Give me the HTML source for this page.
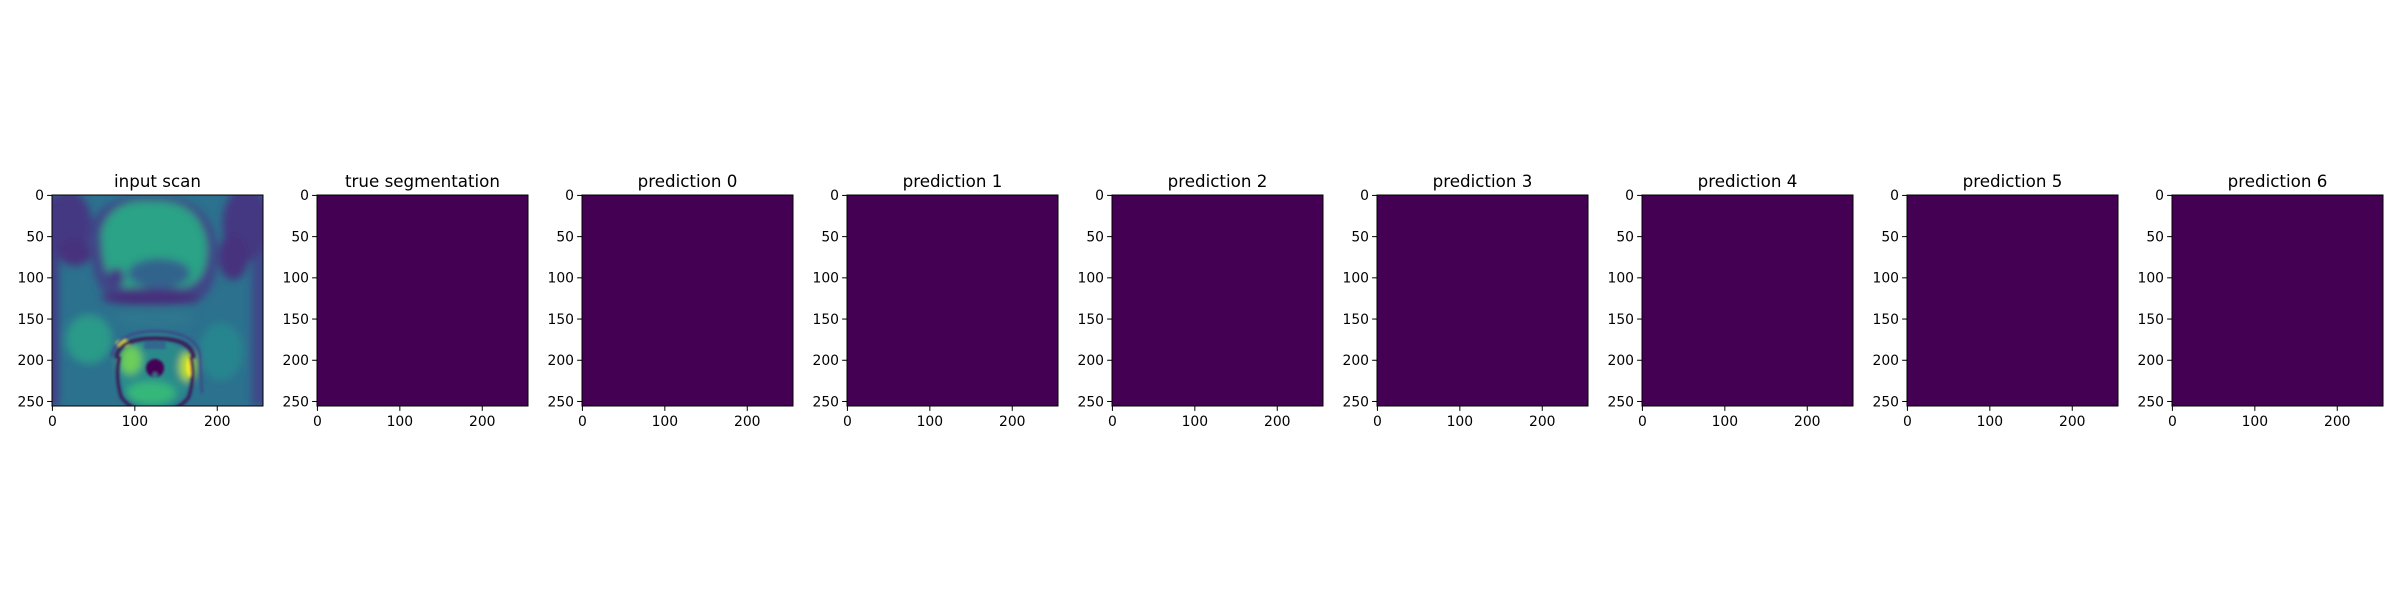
<!DOCTYPE html>
<html><head><meta charset="utf-8"><style>
html,body{margin:0;padding:0;background:#fff;}
svg{display:block;font-family:"DejaVu Sans","Liberation Sans",sans-serif;}
</style></head><body>
<svg id="fig" width="2400" height="600" viewBox="0 0 2400 600" xmlns="http://www.w3.org/2000/svg">
<defs>
<filter id="blur" x="-20%" y="-20%" width="140%" height="140%"><feGaussianBlur stdDeviation="5"/></filter>
<filter id="blur2" x="-20%" y="-20%" width="140%" height="140%"><feGaussianBlur stdDeviation="1.5"/></filter>
<clipPath id="clipScan"><rect x="0" y="0" width="256" height="256"/></clipPath>
</defs>
</svg>
<script>
const titles = ["input scan","true segmentation","prediction 0","prediction 1","prediction 2","prediction 3","prediction 4","prediction 5","prediction 6"];
const yTicks = [0,50,100,150,200,250];
const xTicks = [0,100,200];
const maskValues = [0,0,0,0,0,0,0,0];
const extentMin = -0.5, extentMax = 255.5;

const NS = "http://www.w3.org/2000/svg";
const svg = document.getElementById("fig");
const left0 = 52, step = 265, size = 211, top0 = 195;
function mk(tag, attrs, parent){const e=document.createElementNS(NS,tag);for(const k in attrs)e.setAttribute(k,attrs[k]);(parent||svg).appendChild(e);return e;}
function viridis(v){return v<=0?"#440154":"#fde725";}

titles.forEach((t,i)=>{
  const x0 = left0 + i*step;
  const sx = v => x0 + (v-extentMin)/(extentMax-extentMin)*size;
  const sy = v => top0 + (v-extentMin)/(extentMax-extentMin)*size;
  const g = mk("g",{});
  
  
  if(i===0){
    const img = mk("g",{transform:`translate(${x0},${top0}) scale(${size/256})`,"clip-path":"url(#clipScan)"},g);
    
    
    img.innerHTML = `
    <rect x="0" y="0" width="256" height="256" fill="#2c718e"/>
    <g filter="url(#blur)">
      <rect x="-10" y="0" width="18" height="256" fill="#433e85"/>
      <rect x="242" y="0" width="30" height="256" fill="#3e4a89"/>
      <ellipse cx="20" cy="35" rx="28" ry="40" fill="#453882"/>
      <ellipse cx="235" cy="35" rx="28" ry="45" fill="#453882"/>
      <ellipse cx="28" cy="70" rx="20" ry="16" fill="#46307e"/>
      <ellipse cx="220" cy="75" rx="18" ry="28" fill="#46307e"/>
      <path d="M45,40 Q60,0 120,2 Q190,0 200,60 Q205,120 170,132 L80,132 Q45,120 45,40 Z" fill="#3f4788"/>
      <path d="M60,45 Q70,5 120,8 Q180,5 188,60 Q190,105 160,112 L85,112 Q60,105 60,45 Z" fill="#29a386"/>
      <ellipse cx="130" cy="95" rx="38" ry="18" fill="#33638d"/>
      <ellipse cx="78" cy="100" rx="10" ry="12" fill="#433e85"/>
      <ellipse cx="120" cy="125" rx="60" ry="9" fill="#472d7b"/>
      <ellipse cx="45" cy="175" rx="28" ry="30" fill="#2a9a89"/>
      <ellipse cx="205" cy="190" rx="26" ry="35" fill="#27858e"/>
      <ellipse cx="125" cy="150" rx="50" ry="12" fill="#2d768e"/>
      <circle cx="125" cy="215" r="46" fill="#2a8a8b"/>
      <ellipse cx="165" cy="208" rx="10" ry="18" fill="#b5de2b"/>
      <ellipse cx="95" cy="200" rx="14" ry="18" fill="#6ccd5a"/>
      <ellipse cx="120" cy="240" rx="30" ry="14" fill="#35b779"/>
    </g>
    <g filter="url(#blur2)">
      <ellipse cx="86" cy="180" rx="9" ry="5" fill="#e5e419"/>
      <ellipse cx="167" cy="208" rx="4" ry="12" fill="#fde725"/>
      <path d="M78,198 Q80,174 125,174 Q170,174 172,198" fill="none" stroke="#3b1c5a" stroke-width="5"/>
      <path d="M82,196 Q76,220 84,245 Q95,262 125,264 Q155,262 166,245 Q174,220 168,196" fill="none" stroke="#3b1c5a" stroke-width="4"/>
      <path d="M72,196 Q78,166 125,165 Q176,166 180,196 L182,240" fill="none" stroke="#3e4989" stroke-width="3"/>
      <circle cx="125" cy="210" r="11" fill="#440154"/>
      <circle cx="125" cy="218" r="3" fill="#2d708e"/>
      <rect x="112" y="177" width="26" height="10" fill="#31688e"/>
    </g>`;
  } else {
    const r = mk("rect",{x:sx(extentMin),y:sy(extentMin),width:size,height:size,fill:viridis(maskValues[i-1])},g);
    
    
  }
  const frame = mk("rect",{x:x0,y:top0,width:size,height:size,fill:"none",stroke:"#000","stroke-width":1},g);
  
  
  const title = mk("text",{x:x0+size/2,y:top0-8,"text-anchor":"middle","font-size":"16.7px",fill:"#000"},g);
  title.textContent = t;
  
  
  yTicks.forEach(v=>{
    const y = sy(v);
    const tk = mk("line",{x1:x0-4.9,x2:x0,y1:y,y2:y,stroke:"#000","stroke-width":1},g);
    
    
    const lb = mk("text",{x:x0-8,y:y+4.8,"text-anchor":"end","font-size":"13.9px",fill:"#000"},g);
    lb.textContent = v;
    
    
  });
  xTicks.forEach(v=>{
    const x = sx(v);
    const tk = mk("line",{x1:x,x2:x,y1:top0+size,y2:top0+size+4.9,stroke:"#000","stroke-width":1},g);
    
    
    const lb = mk("text",{x:x,y:top0+size+20,"text-anchor":"middle","font-size":"13.9px",fill:"#000"},g);
    lb.textContent = v;
    
    
  });
});
</script>
</body></html>
